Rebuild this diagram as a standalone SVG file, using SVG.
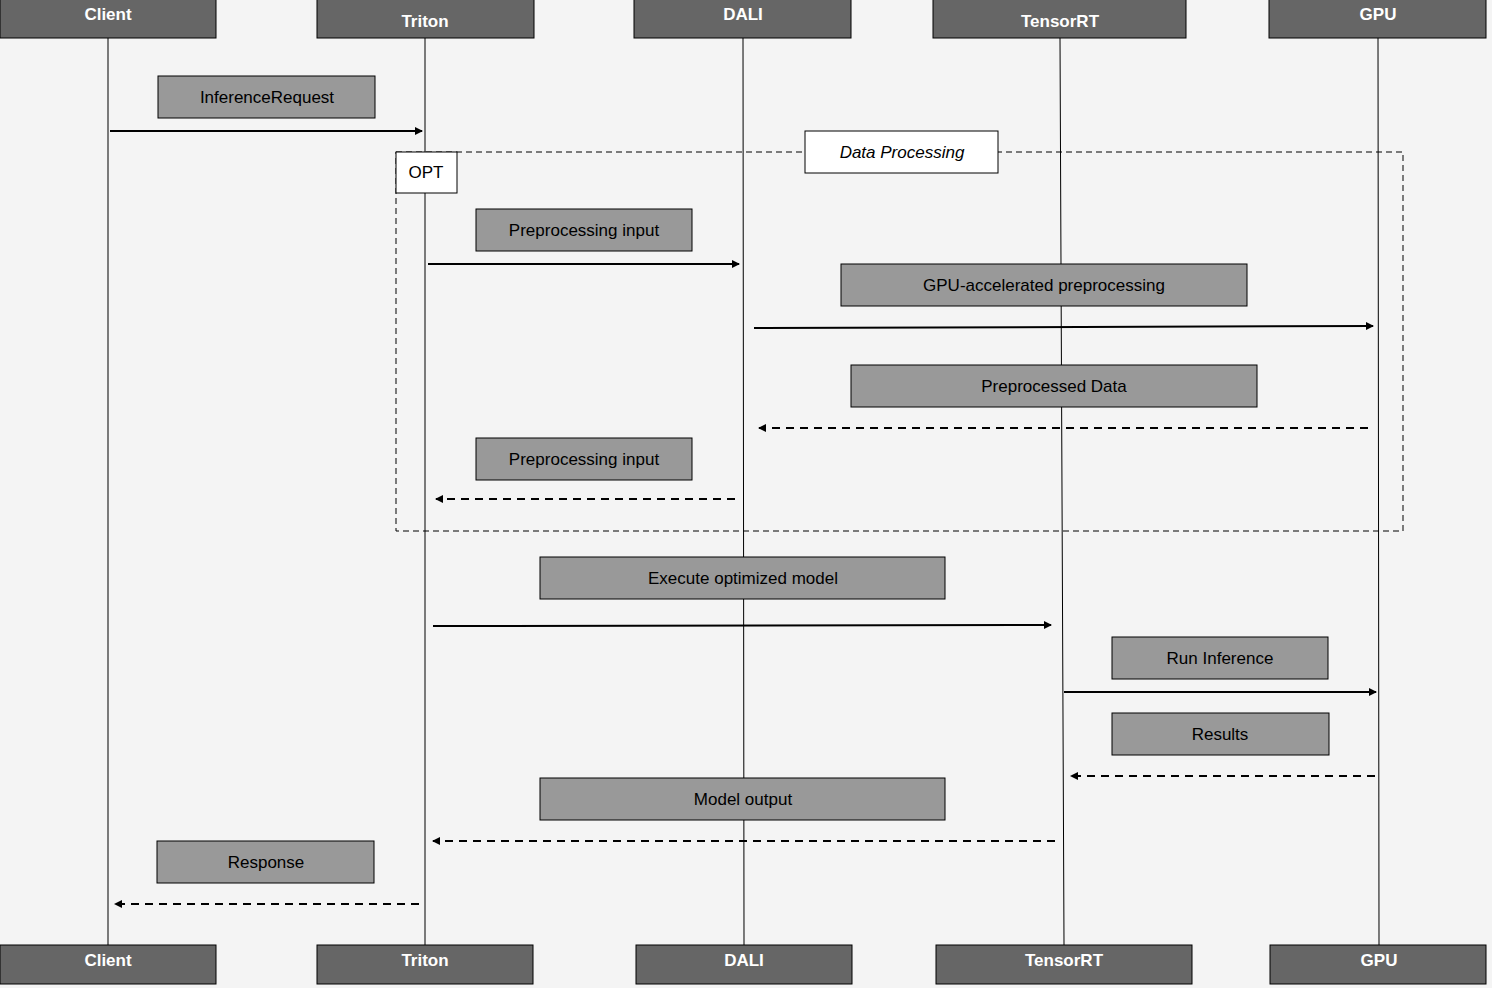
<svg xmlns="http://www.w3.org/2000/svg" width="1492" height="988" viewBox="0 0 1492 988">
<style>
.hd{fill:#666;stroke:#000;stroke-width:1}
.ht{fill:#fff;font-family:"Liberation Sans",Arial,sans-serif;font-weight:bold;font-size:17px;text-anchor:middle}
.lb{fill:#999;stroke:#000;stroke-width:1}
.lt{fill:#000;font-family:"Liberation Sans",Arial,sans-serif;font-size:17px;text-anchor:middle}
.ll{stroke:#000;stroke-width:1;fill:none}
.ar{stroke:#000;stroke-width:2;fill:none;marker-end:url(#ah)}
.da{stroke:#000;stroke-width:2;fill:none;stroke-dasharray:8,6;marker-end:url(#ah)}
</style>
<defs>
<marker id="ah" markerWidth="8" markerHeight="8" refX="7" refY="4" orient="auto" markerUnits="userSpaceOnUse"><path d="M0,0 L8,4 L0,8 z" fill="#000"/></marker>
</defs>
<rect width="1492" height="988" fill="#f4f4f4"/>
<g id="lifelines">
<line class="ll" x1="108" y1="38" x2="108" y2="945"/>
<line class="ll" x1="425" y1="38" x2="425" y2="945"/>
<line class="ll" x1="743" y1="38" x2="744" y2="945"/>
<line class="ll" x1="1060" y1="38" x2="1064" y2="945"/>
<line class="ll" x1="1378" y1="38" x2="1379" y2="945"/>
</g>
<g id="opt">
<rect x="396" y="152" width="1007" height="379" fill="none" stroke="#000" stroke-dasharray="6,4"/>
<rect x="396" y="152" width="61" height="41" fill="#fff" stroke="#000"/>
<text class="lt" x="426" y="178">OPT</text>
<rect x="805" y="131" width="193" height="42" fill="#fff" stroke="#000"/>
<text class="lt" x="902" y="158" font-style="italic">Data Processing</text>
</g>
<g id="connectors">
<line class="ar" x1="110" y1="131" x2="422" y2="131"/>
<line class="ar" x1="428" y1="264" x2="739" y2="264"/>
<line class="ar" x1="754" y1="328" x2="1373" y2="326"/>
<line class="da" x1="1368" y1="428" x2="759" y2="428"/>
<line class="da" x1="735" y1="499" x2="436" y2="499"/>
<line class="ar" x1="433" y1="626" x2="1051" y2="625"/>
<line class="ar" x1="1064" y1="692" x2="1376" y2="692"/>
<line class="da" x1="1375" y1="776" x2="1071" y2="776"/>
<line class="da" x1="1055" y1="841" x2="433" y2="841"/>
<line class="da" x1="419" y1="904" x2="115" y2="904"/>
</g>
<g id="labels">
<g id="l1"><rect class="lb" x="158" y="76" width="217" height="42"/><text class="lt" x="267" y="103">InferenceRequest</text></g>
<g id="l2"><rect class="lb" x="476" y="209" width="216" height="42"/><text class="lt" x="584" y="236">Preprocessing input</text></g>
<g id="l3"><rect class="lb" x="841" y="264" width="406" height="42"/><text class="lt" x="1044" y="291">GPU-accelerated preprocessing</text></g>
<g id="l4"><rect class="lb" x="851" y="365" width="406" height="42"/><text class="lt" x="1054" y="392">Preprocessed Data</text></g>
<g id="l5"><rect class="lb" x="476" y="438" width="216" height="42"/><text class="lt" x="584" y="465">Preprocessing input</text></g>
<g id="l6"><rect class="lb" x="540" y="557" width="405" height="42"/><text class="lt" x="743" y="584">Execute optimized model</text></g>
<g id="l7"><rect class="lb" x="1112" y="637" width="216" height="42"/><text class="lt" x="1220" y="664">Run Inference</text></g>
<g id="l8"><rect class="lb" x="1112" y="713" width="217" height="42"/><text class="lt" x="1220" y="740">Results</text></g>
<g id="l9"><rect class="lb" x="540" y="778" width="405" height="42"/><text class="lt" x="743" y="805">Model output</text></g>
<g id="l10"><rect class="lb" x="157" y="841" width="217" height="42"/><text class="lt" x="266" y="868">Response</text></g>
</g>
<g id="client"><rect class="hd" x="0" y="-1" width="216" height="39"/><text class="ht" x="108" y="20">Client</text><rect class="hd" x="0" y="945" width="216" height="39"/><text class="ht" x="108" y="966">Client</text></g>
<g id="triton"><rect class="hd" x="317" y="-1" width="217" height="39"/><text class="ht" x="425" y="27">Triton</text><rect class="hd" x="317" y="945" width="216" height="39"/><text class="ht" x="425" y="966">Triton</text></g>
<g id="dali"><rect class="hd" x="634" y="-1" width="217" height="39"/><text class="ht" x="743" y="20">DALI</text><rect class="hd" x="636" y="945" width="216" height="39"/><text class="ht" x="744" y="966">DALI</text></g>
<g id="tensorrt"><rect class="hd" x="933" y="-1" width="253" height="39"/><text class="ht" x="1060" y="27">TensorRT</text><rect class="hd" x="936" y="945" width="256" height="39"/><text class="ht" x="1064" y="966">TensorRT</text></g>
<g id="gpu"><rect class="hd" x="1269" y="-1" width="217" height="39"/><text class="ht" x="1378" y="20">GPU</text><rect class="hd" x="1270" y="945" width="216" height="39"/><text class="ht" x="1379" y="966">GPU</text></g>
</svg>
